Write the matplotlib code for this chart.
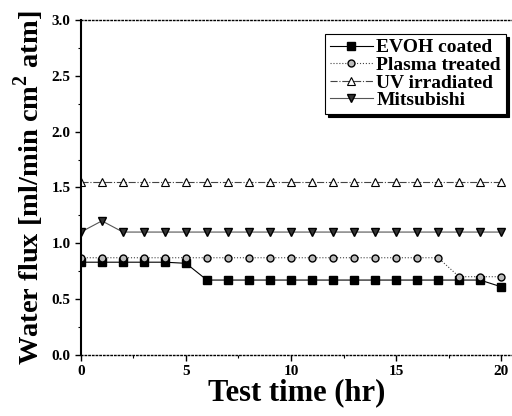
import matplotlib
matplotlib.use("Agg")
import matplotlib.pyplot as plt
from matplotlib.ticker import MultipleLocator

plt.rcParams['font.family'] = ['Liberation Serif', 'DejaVu Serif']
plt.rcParams['font.weight'] = 'bold'
plt.rcParams['mathtext.fontset'] = 'custom'
plt.rcParams['mathtext.rm'] = 'Liberation Serif:bold'
plt.rcParams['mathtext.bf'] = 'Liberation Serif:bold'

time = list(range(21))
evoh = [0.83]*5 + [0.82] + [0.67]*14 + [0.61]
plasma = [0.87]*18 + [0.70, 0.70, 0.70]
uv = [1.55]*21
mitsubishi = [1.10, 1.20] + [1.10]*19

fig = plt.figure(figsize=(5.12, 4.16), dpi=100)
ax = fig.add_axes([0.158, 0.147, 0.842, 0.805])

ax.plot(time, evoh, color='black', lw=0.8, ls='-', marker='s', ms=5.5, mfc='black', label='EVOH coated')
ax.plot(time, plasma, color='#444444', lw=0.8, ls=':', marker='o', ms=5, mfc='#bbbbbb', mec='black', mew=1, label='Plasma treated')
ax.plot(time, uv, color='#444444', lw=0.8, ls='-.', marker='^', ms=5.5, mfc='white', mec='black', mew=0.8, label='UV irradiated')
ax.plot(time, mitsubishi, color='#555555', lw=0.8, ls='-', marker='v', ms=6, mfc='#333333', mec='black', label='Mitsubishi')

ax.set_xlim(0, 20.52)
ax.set_ylim(0, 3.0)
ax.xaxis.set_major_locator(MultipleLocator(5))
ax.xaxis.set_minor_locator(MultipleLocator(2.5))
ax.yaxis.set_major_locator(MultipleLocator(0.5))
ax.yaxis.set_minor_locator(MultipleLocator(0.25))
ax.yaxis.set_major_formatter(plt.FuncFormatter(lambda v, p: f"{v:.1f}"))
ax.tick_params(axis='both', which='major', labelsize=11, length=4, width=1)
ax.tick_params(axis='both', which='minor', length=2.5, width=0.8)

for s in ['top', 'bottom']:
    ax.spines[s].set_linestyle(':')
    ax.spines[s].set_linewidth(1)
ax.spines['right'].set_visible(False)
ax.spines['left'].set_linewidth(1.5)

ax.set_xlabel('Test time (hr)', fontsize=22, fontweight='bold', labelpad=0)
ax.set_ylabel('Water flux [ml/min cm$^{2}$ atm]', fontsize=20.5, fontweight='bold')
ax.yaxis.set_label_coords(-0.08, 0.5)

leg = ax.legend(loc='upper right', bbox_to_anchor=(0.995, 0.97), fontsize=14, frameon=True,
                shadow={'color': 'black', 'alpha': 1},
                fancybox=False, handlelength=2.2, borderpad=0.25, labelspacing=0.0, handletextpad=0.2,
                borderaxespad=0.2)
leg.get_frame().set_edgecolor('black')
leg.get_frame().set_linewidth(0.8)

fig.savefig('out.png', dpi=100)
